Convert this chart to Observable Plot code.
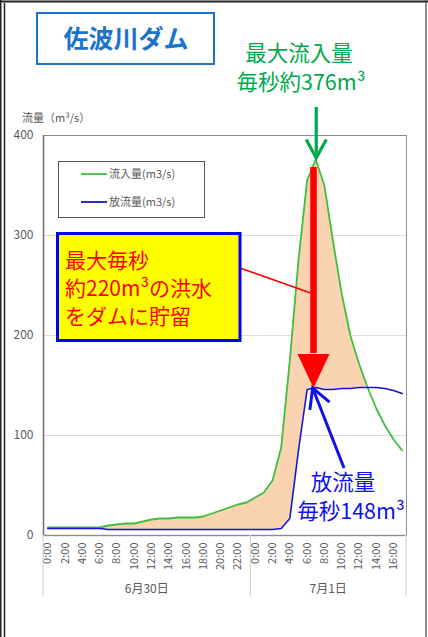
<!DOCTYPE html>
<html>
<head>
<meta charset="utf-8">
<script src="https://cdn.jsdelivr.net/npm/d3@7"></script>
<script src="https://cdn.jsdelivr.net/npm/@observablehq/plot@0.6"></script>
<style>
  html, body { margin: 0; padding: 0; background: #fff; }
  #chart { width: 428px; height: 637px; position: relative; overflow: hidden; }
</style>
</head>
<body>
<div id="chart"></div>
<script>
// ---- data (hourly, 6/30 0:00 .. 7/1 17:00) ----
const hours = d3.range(42);
const inflow = [8,8,8,8,8,8,8,10,11,12,12,14,16,17,17,18,18,18,19,22,25,28,31,33,38,43,55,88,175,275,355,376,350,294,242,200,172,148,127,110,96,85];
const outflow = [7,7,7,7,7,7,7,6,6,6,6,6,6,6,6,6,6,6,6,6,6,6,6,6,6,6,6,7,17,85,146,148,146,146,147,147,148,148,148,147,145,142];
const tickHours = [0,2,4,6,8,10,12,14,16,18,20,22,24,26,28,30,32,34,36,38,40];
const tickLabels = ["0:00","2:00","4:00","6:00","8:00","10:00","12:00","14:00","16:00","18:00","20:00","22:00","0:00","2:00","4:00","6:00","8:00","10:00","12:00","14:00","16:00"];
const dateLabels = ["6月30日","7月1日"];
const dateCenters = [11.5, 32.5];
const dateBounds = [-0.5, 23.5, 41.5];
const yTicks = [0,100,200,300,400];
const seriesNames = ["流入量(m3/s)","放流量(m3/s)"];

const data = hours.map((h,i) => ({h, inf: inflow[i], out: outflow[i], top: Math.max(inflow[i], outflow[i])}));
const labelOf = new Map(tickHours.map((h,i) => [h, tickLabels[i]]));

const FONT = "'Noto Sans CJK JP', 'Noto Sans', sans-serif";
const GREEN_LINE = "#3fbf3f", BLUE_LINE = "#1414cc", FILL = "#fad3b0";
const GREEN_TXT = "#00a84f", BLUE_TXT = "#1010ee", RED = "#ff0000";

const plot = Plot.plot({
  width: 428, height: 637,
  marginLeft: 43, marginRight: 22, marginTop: 135, marginBottom: 102,
  style: {fontFamily: FONT, fontSize: "11px", background: "white"},
  x: {domain: [-0.5, 41.5]},
  y: {domain: [0, 400]},
  marks: [
    Plot.gridY([100,200,300], {stroke: "#dcdcdc", strokeOpacity: 1, strokeWidth: 1.2}),
    Plot.areaY(data, {x: "h", y1: "out", y2: "top", fill: FILL}),
    Plot.lineY(data, {x: "h", y: "inf", stroke: GREEN_LINE, strokeWidth: 1.8}),
    Plot.lineY(data, {x: "h", y: "out", stroke: BLUE_LINE, strokeWidth: 1.6}),
    Plot.ruleY([0], {stroke: "#a6a6a6", strokeWidth: 1.5}),
    Plot.frame({stroke: "#8c8c8c", strokeWidth: 1}),
    Plot.ruleX([-0.5], {stroke: "#707070", strokeWidth: 1.5}),
    Plot.axisY({ticks: yTicks, tickSize: 0, tickPadding: 10, label: null, fontSize: 12, color: "#595959"}),
    Plot.axisX({ticks: tickHours, tickFormat: d => labelOf.get(d), tickRotate: -90, tickSize: 0, tickPadding: 7, label: null, fontSize: 11, color: "#595959"})
  ]
});
document.getElementById("chart").appendChild(plot);

const X = v => plot.scale("x").apply(v);
const Y = v => plot.scale("y").apply(v);
const svg = d3.select(plot);
const g = svg.append("g").attr("font-family", FONT).attr("text-anchor", "start");

// category group separators and date labels
const y0 = Y(0);
dateBounds.forEach(b => {
  g.append("line").attr("x1", X(b)).attr("x2", X(b)).attr("y1", y0).attr("y2", y0 + 62)
    .attr("stroke", "#d9d9d9").attr("stroke-width", 1.2);
});
dateLabels.forEach((t,i) => {
  g.append("text").attr("x", X(dateCenters[i])).attr("y", 593).attr("text-anchor", "middle")
    .attr("font-size", 12).attr("fill", "#595959").text(t);
});

// y-axis label
g.append("text").attr("x", 22).attr("y", 122).attr("text-anchor", "start").attr("font-size", 11).attr("fill", "#595959").text("流量（m³/s）");

// legend
g.append("rect").attr("x", 58.5).attr("y", 161.5).attr("width", 146).attr("height", 56)
  .attr("fill", "white").attr("stroke", "#555").attr("stroke-width", 1);
[[GREEN_LINE, 174], [BLUE_LINE, 202]].forEach(([c, yy], i) => {
  g.append("line").attr("x1", 81).attr("x2", 107).attr("y1", yy).attr("y2", yy).attr("stroke", c).attr("stroke-width", 1.8);
  g.append("text").attr("x", 109).attr("y", yy + 4).attr("text-anchor", "start").attr("font-size", 11).attr("fill", "#595959").text(seriesNames[i]);
});

// title box
g.append("rect").attr("x", 37).attr("y", 13).attr("width", 177).attr("height", 51)
  .attr("fill", "white").attr("stroke", "#1874cd").attr("stroke-width", 2);
g.append("text").attr("x", 126).attr("y", 48).attr("text-anchor", "middle").attr("font-size", 25)
  .attr("font-weight", "bold").attr("fill", "#1874cd").text("佐波川ダム");

// peak indices
const iPeakIn = inflow.indexOf(d3.max(inflow));
const peakIn = inflow[iPeakIn];
const peakOut = d3.max(outflow);

// arrow helper (open chevron head)
function arrow(x1, y1, x2, y2, color, w, len, ang) {
  g.append("line").attr("x1", x1).attr("y1", y1).attr("x2", x2).attr("y2", y2)
    .attr("stroke", color).attr("stroke-width", w);
  const dx = x1 - x2, dy = y1 - y2, L = Math.hypot(dx, dy);
  const ux = dx / L, uy = dy / L;
  const rot = a => [x2 + len * (ux * Math.cos(a) - uy * Math.sin(a)), y2 + len * (ux * Math.sin(a) + uy * Math.cos(a))];
  const p1 = rot(ang), p2 = rot(-ang);
  g.append("path").attr("d", `M${p1[0]},${p1[1]}L${x2},${y2}L${p2[0]},${p2[1]}`)
    .attr("fill", "none").attr("stroke", color).attr("stroke-width", w).attr("stroke-linejoin", "miter");
}

// green annotation
const gx = X(iPeakIn) + 1;
arrow(gx, 107, gx, Y(peakIn) - 1, GREEN_TXT, 3.2, 21, 0.5);
g.append("text").attr("x", 299).attr("y", 61).attr("text-anchor", "middle").attr("font-size", 21.5).attr("fill", GREEN_TXT).text("最大流入量");
g.append("text").attr("x", 301).attr("y", 90).attr("text-anchor", "middle").attr("font-size", 21.5).attr("fill", GREEN_TXT).text("毎秒約376m³");

// red arrow (storage)
const rx = X(30.8);
g.append("line").attr("x1", rx).attr("x2", rx).attr("y1", Y(368)).attr("y2", Y(182))
  .attr("stroke", RED).attr("stroke-width", 6.5);
g.append("path").attr("d", `M${rx - 16},${Y(181)}L${rx + 16},${Y(181)}L${rx},${Y(peakOut) + 1}Z`).attr("fill", RED);
// leader line from box
g.append("line").attr("x1", 240).attr("y1", 268).attr("x2", rx - 3).attr("y2", 293)
  .attr("stroke", RED).attr("stroke-width", 1.6);

// yellow box
g.append("rect").attr("x", 57.5).attr("y", 233.5).attr("width", 182.5).attr("height", 107)
  .attr("fill", "#ffff00").attr("stroke", "#0000ff").attr("stroke-width", 3);
["最大毎秒", "約220m³の洪水", "をダムに貯留"].forEach((t, i) => {
  g.append("text").attr("x", 65).attr("y", 268 + i * 28).attr("text-anchor", "start").attr("font-size", 21).attr("fill", RED).text(t);
});

// blue annotation
arrow(344, 468, X(30.7), Y(peakOut) + 1, BLUE_TXT, 3, 22, 0.5);
g.append("text").attr("x", 343).attr("y", 490).attr("text-anchor", "middle").attr("font-size", 21.5).attr("fill", BLUE_TXT).text("放流量");
g.append("text").attr("x", 351).attr("y", 519).attr("text-anchor", "middle").attr("font-size", 21.5).attr("fill", BLUE_TXT).text("毎秒148m³");

// outer border
g.append("line").attr("x1", 0).attr("x2", 428).attr("y1", 1.5).attr("y2", 1.5).attr("stroke", "#222").attr("stroke-width", 2);
g.append("line").attr("x1", 0.75).attr("x2", 0.75).attr("y1", 0).attr("y2", 637).attr("stroke", "#222").attr("stroke-width", 1.5);
g.append("line").attr("x1", 4.5).attr("x2", 4.5).attr("y1", 3).attr("y2", 637).attr("stroke", "#222").attr("stroke-width", 1.5);
g.append("line").attr("x1", 426).attr("x2", 426).attr("y1", 0).attr("y2", 637).attr("stroke", "#444").attr("stroke-width", 1.2);
</script>
</body>
</html>
